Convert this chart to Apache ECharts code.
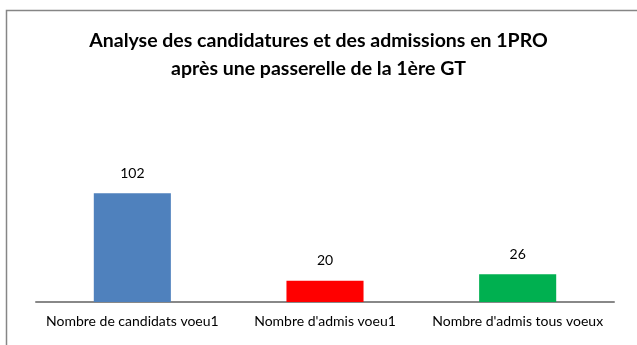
<!DOCTYPE html>
<html>
<head>
<meta charset="utf-8">
<script src="https://cdn.jsdelivr.net/npm/echarts@6/dist/echarts.min.js"></script>
<style>
  html, body { margin: 0; padding: 0; background: #fff; }
  #chart { width: 637px; height: 345px; }
</style>
</head>
<body>
<div id="chart"></div>
<script>
// Categories and values
const categories = ['Nombre de candidats voeu1', "Nombre d'admis voeu1", "Nombre d'admis tous voeux"];
const values = [102, 20, 26];
const barColors = ['#4F81BD', '#FF0000', '#00B050'];
const titleLines = ['Analyse des candidatures et des admissions en 1PRO', 'après une passerelle de la 1ère GT'];

const font = 'Lato, "Open Sans", sans-serif';

const chart = echarts.init(document.getElementById('chart'), null, { renderer: 'canvas' });
chart.setOption({
  animation: false,
  backgroundColor: '#ffffff',
  title: {
    text: titleLines.join('\n'),
    left: 'center',
    top: 22,
    textStyle: {
      fontFamily: font,
      fontWeight: 'bold',
      fontSize: 19.5,
      lineHeight: 28,
      color: '#000'
    }
  },
  graphic: [{
    type: 'rect',
    shape: { x: 6.5, y: 10.5, width: 700, height: 400 },
    style: { fill: 'none', stroke: '#868686', lineWidth: 1.5 },
    silent: true,
    z: -1
  }],
  grid: { left: 36, right: 23, top: 174, bottom: 43 },
  xAxis: {
    type: 'category',
    data: categories,
    axisLine: { lineStyle: { color: '#888888', width: 2 } },
    axisTick: { show: false },
    axisLabel: { fontFamily: font, fontSize: 14, color: '#000', margin: 12, interval: 0 }
  },
  yAxis: {
    type: 'value',
    min: 0,
    max: 120,
    show: false,
    splitLine: { show: false }
  },
  series: [{
    type: 'bar',
    barWidth: '40%',
    data: values.map((v, i) => ({ value: v, itemStyle: { color: barColors[i] } })),
    label: {
      show: true,
      position: 'top',
      distance: 13,
      fontFamily: font,
      fontSize: 14,
      color: '#000'
    }
  }]
});
</script>
</body>
</html>
